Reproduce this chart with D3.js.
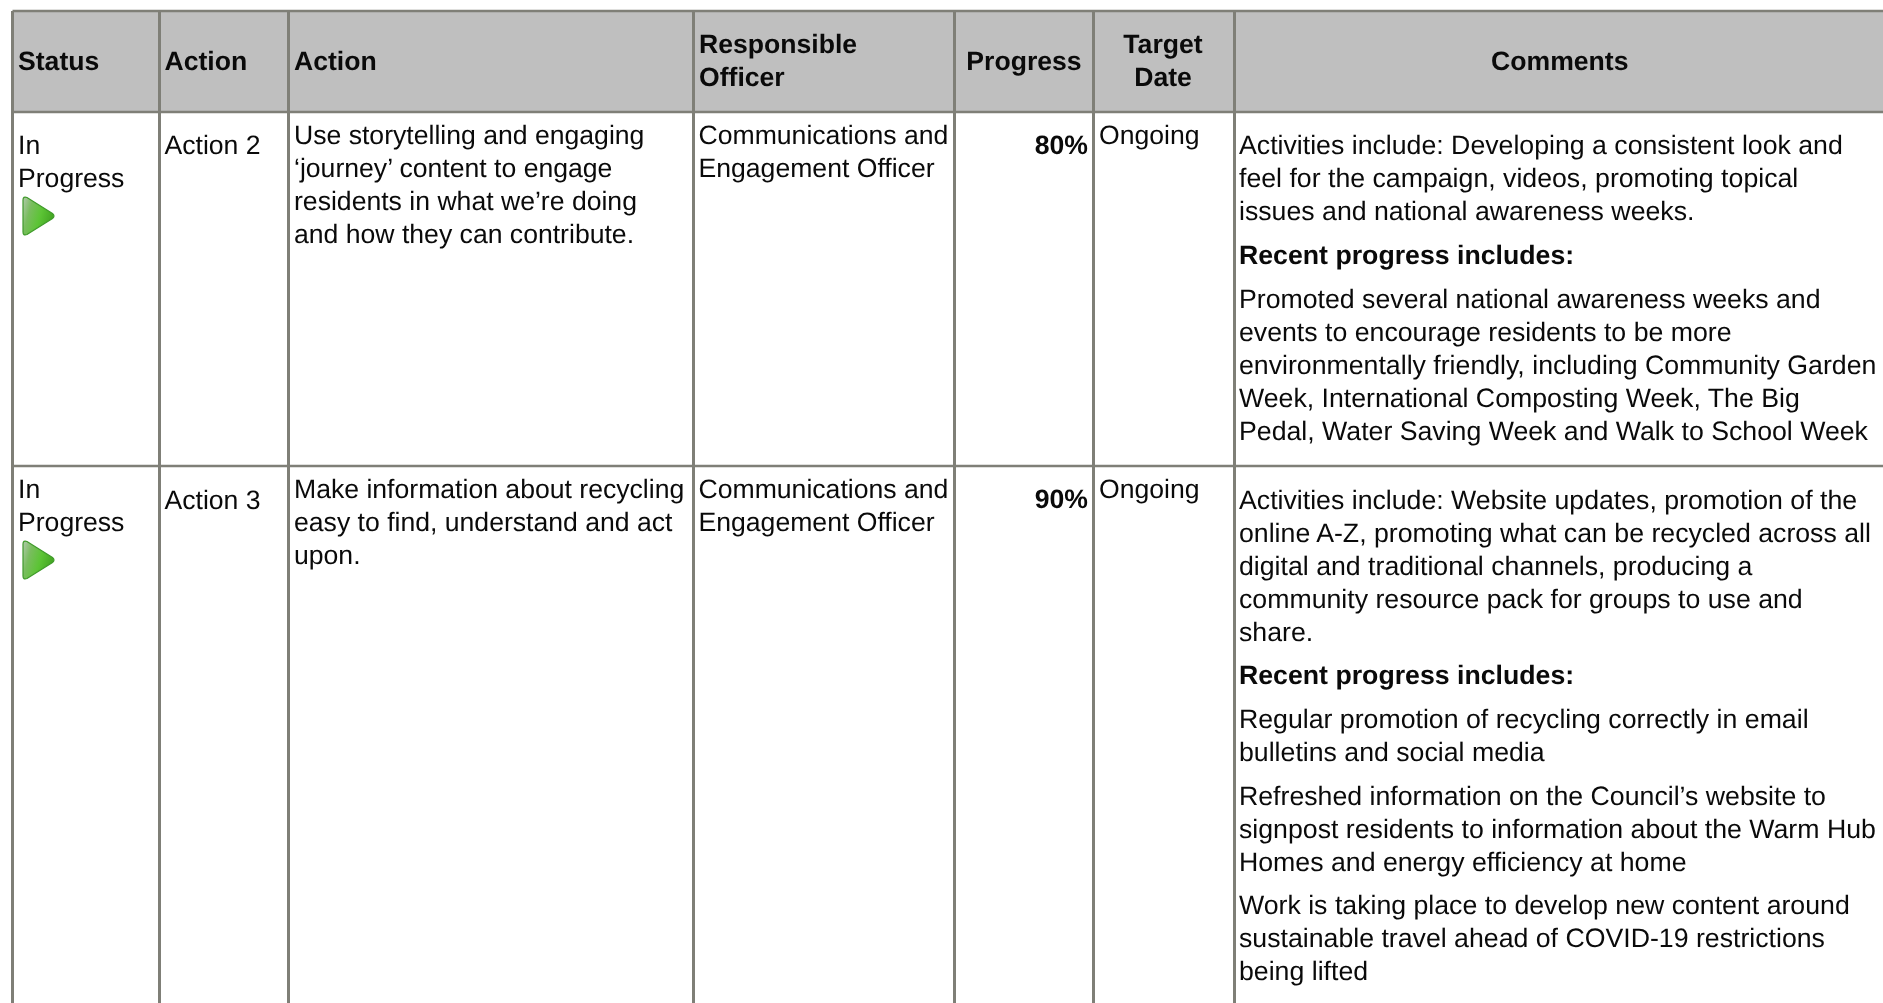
<!DOCTYPE html>
<html><head><meta charset="utf-8">
<script src="https://cdn.jsdelivr.net/npm/d3@7/dist/d3.min.js"></script>
<style>html,body{margin:0;padding:0;background:#fff;overflow:hidden}svg{display:block;filter:blur(0.35px)}text{font-family:"Liberation Sans",Arial,sans-serif;fill:#0a0a0a;text-rendering:geometricPrecision}</style>
</head><body><svg id="c" width="1883" height="1003"></svg>
<script>
// ---- table content ----
const columns = ["Status","Action","Action2","Officer","Progress","Target","Comments"];
const headerLines = [["Status"],["Action"],["Action"],["Responsible","Officer"],["Progress"],["Target","Date"],["Comments"]];
const rowNames = ["Action 2","Action 3"];
const statusLines = ["In","Progress"];
const actionDescriptions = [
 ["Use storytelling and engaging","‘journey’ content to engage","residents in what we’re doing","and how they can contribute."],
 ["Make information about recycling","easy to find, understand and act","upon."]];
const officerLines = ["Communications and","Engagement Officer"];
const progressValues = [80,90];
const targetDate = "Ongoing";
const commentsRow1 = [
 {bold:false,lines:["Activities include: Developing a consistent look and","feel for the campaign, videos, promoting topical","issues and national awareness weeks."]},
 {bold:true,lines:["Recent progress includes:"]},
 {bold:false,lines:["Promoted several national awareness weeks and","events to encourage residents to be more","environmentally friendly, including Community Garden","Week, International Composting Week, The Big","Pedal, Water Saving Week and Walk to School Week"]}];
const commentsRow2 = [
 {bold:false,lines:["Activities include: Website updates, promotion of the","online A-Z, promoting what can be recycled across all","digital and traditional channels, producing a","community resource pack for groups to use and","share."]},
 {bold:true,lines:["Recent progress includes:"]},
 {bold:false,lines:["Regular promotion of recycling correctly in email","bulletins and social media"]},
 {bold:false,lines:["Refreshed information on the Council’s website to","signpost residents to information about the Warm Hub","Homes and energy efficiency at home"]},
 {bold:false,lines:["Work is taking place to develop new content around","sustainable travel ahead of COVID-19 restrictions","being lifted"]}];

// ---- layout ----
const W=1883,H=1003,FS=26.6,LH=33,BORDER="#7f7f77",HEAD="#bfbfbf";
const xEdge=d3.scaleOrdinal().domain(columns).range([12.5,159.5,288.5,693.5,954.5,1093.5,1234.5]);
const rowTop=d3.scaleOrdinal().domain(["header",...rowNames]).range([11,112,466]);
const svg=d3.select("#c");
const defs=svg.append("defs");
const g=defs.append("linearGradient").attr("id","arrow").attr("x1",0).attr("y1",0).attr("x2",1).attr("y2",0.35);
g.selectAll("stop").data([[0,"#b3c9ae"],[0.3,"#79bd5e"],[0.65,"#5cc435"],[1,"#45a824"]]).join("stop")
 .attr("offset",d=>d[0]).attr("stop-color",d=>d[1]);

svg.append("rect").attr("x",xEdge("Status")).attr("y",rowTop("header")).attr("width",W).attr("height",rowTop(rowNames[0])-rowTop("header")).attr("fill",HEAD);

const put=(x,y,t,o={})=>svg.append("text").attr("x",x).attr("y",y).attr("font-size",o.fs||FS)
 .attr("font-weight",o.bold?700:400).attr("text-anchor",o.anchor||"start").text(t);

// header
const headX=[18,164.5,294,699,null,null,null];
headerLines.forEach((ls,i)=>{
  const c=columns[i];
  const next=i<columns.length-1?xEdge(columns[i+1]):W;
  const centered=i>=4;
  const x=centered?(xEdge(c)+next)/2+(i===5?-1:i===6?1:0):headX[i];
  const y0=ls.length===1?70:53;
  ls.forEach((t,j)=>put(x,y0+j*33,t,{bold:true,anchor:centered?"middle":"start"}));
});

// rows
const statusY=[154,497.5];
const nameY=[154,509];
const topY=[143.5,497.5];
const pctY=[154,508];
const arrowY=[196,540];
rowNames.forEach((r,i)=>{
  statusLines.forEach((t,j)=>put(18,statusY[i]+j*LH,t));
  svg.append("path").attr("transform",`translate(0,${arrowY[i]})`)
    .attr("d","M23,4 Q23,0 27,1.5 L52.5,17.5 Q55.5,20 52.5,22.5 L27,38.5 Q23,40 23,36 Z")
    .attr("fill","url(#arrow)").attr("stroke","#3f9a2a").attr("stroke-width",1.2);
  put(164.5,nameY[i],r);
  actionDescriptions[i].forEach((t,j)=>put(294,topY[i]+j*LH,t));
  officerLines.forEach((t,j)=>put(698.5,topY[i]+j*LH,t));
  put(1088,pctY[i],progressValues[i]+"%",{bold:true,anchor:"end"});
  put(1099,topY[i],targetDate);
});

// comments
const commentStarts1=[154,263.5,307.5];
const commentStarts2=[508.5,683.5,727.5,804.5,914];
[[commentsRow1,commentStarts1],[commentsRow2,commentStarts2]].forEach(([ps,st])=>{
  ps.forEach((p,k)=>p.lines.forEach((t,j)=>put(1239,st[k]+j*33,t,{bold:p.bold,fs:26.7})));
});

// grid lines
const line=(x1,y1,x2,y2,w)=>svg.append("line").attr("x1",x1).attr("y1",y1).attr("x2",x2).attr("y2",y2).attr("stroke",BORDER).attr("stroke-width",w);
columns.forEach(c=>line(xEdge(c),rowTop("header"),xEdge(c),H,3));
["header",...rowNames].forEach(r=>line(xEdge("Status"),rowTop(r),W,rowTop(r),2.4));
</script></body></html>
